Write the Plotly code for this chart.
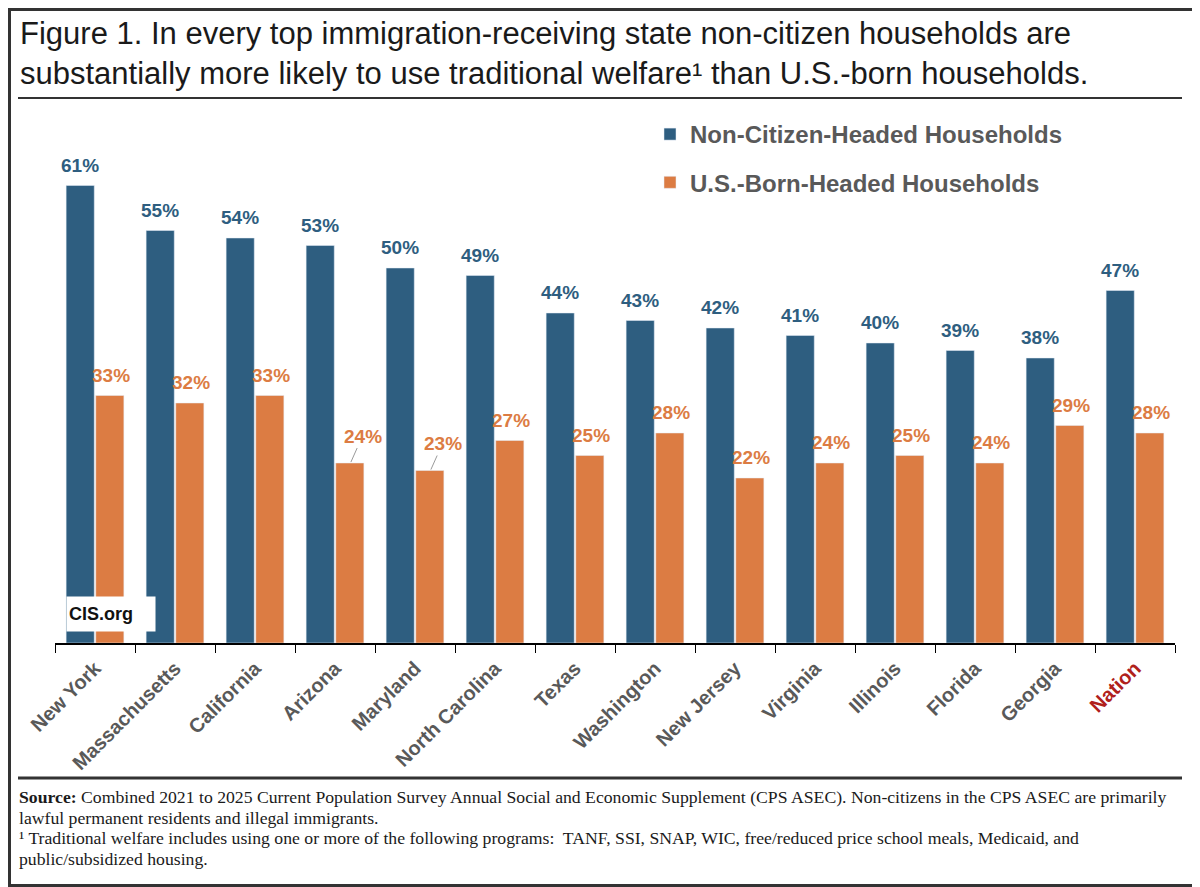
import plotly.graph_objects as go

# Data
states = ["New York", "Massachusetts", "California", "Arizona", "Maryland", "North Carolina",
          "Texas", "Washington", "New Jersey", "Virginia", "Illinois", "Florida", "Georgia", "Nation"]
non_citizen = [61, 55, 54, 53, 50, 49, 44, 43, 42, 41, 40, 39, 38, 47]
us_born = [33, 32, 33, 24, 23, 27, 25, 28, 22, 24, 25, 24, 29, 28]
# labels that sit off the bar with a small leader line
leader_states = ["Arizona", "Maryland"]

footnote_lines = [
    "<b>Source:</b> Combined 2021 to 2025 Current Population Survey Annual Social and Economic "
    "Supplement (CPS ASEC). Non-citizens in the CPS ASEC are primarily",
    "lawful permanent residents and illegal immigrants.",
    "\u00b9 Traditional welfare includes using one or more of the following programs:  TANF, SSI, "
    "SNAP, WIC, free/reduced price school meals, Medicaid, and",
    "public/subsidized housing.",
]

blue = "#2E5E80"
orange = "#DC7C43"
gray = "#595959"
label_font = "Liberation Sans, Arial, sans-serif"

# the page puts the figure 8px in from the top-left, so size it to fit the window
OFF = 8
W, H = 1192, 879
L, R, T, B = 47, 25, 107, 244
pw = W - L - R
ph = H - T - B

# convert page pixels to paper coords
def px_x(p):
    return (p - OFF - L) / pw

def px_y(p):
    return (H - B - (p - OFF)) / ph

fig = go.Figure()
fig.add_trace(go.Bar(x=states, y=non_citizen, name="<b>Non-Citizen-Headed Households</b>",
                     marker_color=blue, legendgroup="a"))
fig.add_trace(go.Bar(x=states, y=us_born, name="<b>U.S.-Born-Headed Households</b>",
                     marker_color=orange, legendgroup="b"))

# value labels
annots = []
for s, v in zip(states, non_citizen):
    annots.append(dict(x=s, y=v, text=f"<b>{v}%</b>", showarrow=False, xshift=-15.5,
                       yanchor="bottom", yshift=8, font=dict(size=19, color=blue, family=label_font)))
for s, v in zip(states, us_born):
    if s in leader_states:
        annots.append(dict(x=s, y=v, text=f"<b>{v}%</b>", showarrow=True, arrowhead=0,
                           arrowwidth=1, arrowcolor="#9a9a9a", ax=12, ay=-27, standoff=1,
                           xshift=15.5, font=dict(size=19, color=orange, family=label_font)))
    else:
        annots.append(dict(x=s, y=v, text=f"<b>{v}%</b>", showarrow=False, xshift=15.5,
                           yanchor="bottom", yshift=8, font=dict(size=19, color=orange, family=label_font)))

# title
annots.append(dict(xref="paper", yref="paper", x=px_x(18), y=px_y(14), xanchor="left", yanchor="top",
                   align="left", showarrow=False,
                   text="Figure 1. In every top immigration-receiving state non-citizen households are<br>"
                        "substantially more likely to use traditional welfare\u00b9 than U.S.-born households.",
                   font=dict(size=31, color="#1a1a1a", family="Liberation Sans, Arial, sans-serif")))

# watermark
annots.append(dict(xref="paper", yref="paper", x=px_x(66), y=px_y(614), xanchor="left", yanchor="middle",
                   showarrow=False, text="<b>CIS.org</b>", bgcolor="white", width=84, height=30,
                   align="left", borderpad=2,
                   font=dict(size=18, color="#111", family=label_font)))

# footnotes, one line each so the spacing can match
for i, line in enumerate(footnote_lines):
    annots.append(dict(xref="paper", yref="paper", x=px_x(17), y=px_y(797 + i * 20.5),
                       xanchor="left", yanchor="middle", align="left", showarrow=False, text=line,
                       font=dict(size=17.7, color="#1a1a1a",
                                 family="Liberation Serif, Times New Roman, serif")))

shapes = [
    # outer frame
    dict(type="rect", xref="paper", yref="paper", x0=px_x(OFF + 1.5), x1=px_x(OFF + W - 1.5),
         y0=px_y(OFF + H - 1.5), y1=px_y(OFF + 1.5), line=dict(color="#333", width=3)),
    # rule under title
    dict(type="line", xref="paper", yref="paper", x0=px_x(18), x1=px_x(1182), y0=px_y(98), y1=px_y(98),
         line=dict(color="#333", width=2)),
    # rule above footnotes
    dict(type="line", xref="paper", yref="paper", x0=px_x(18), x1=px_x(1182), y0=px_y(778), y1=px_y(778),
         line=dict(color="#333", width=3)),
]

ticktext = [f"<b>{s}</b>" if s != "Nation" else "<b><span style='color:#B0211B'>Nation</span></b>"
            for s in states]

fig.update_layout(
    width=W, height=H,
    margin=dict(l=L, r=R, t=T, b=B),
    paper_bgcolor="white", plot_bgcolor="white",
    barmode="group", bargap=0.26, bargroupgap=0.05,
    annotations=annots, shapes=shapes,
    legend=dict(x=px_x(650), y=px_y(112), xanchor="left", yanchor="top", traceorder="grouped",
                tracegroupgap=14, bgcolor="rgba(0,0,0,0)",
                font=dict(size=24, color=gray, family=label_font)),
    xaxis=dict(tickmode="array", tickvals=states, ticktext=ticktext, tickangle=-45,
               tickfont=dict(size=20, color=gray, family=label_font),
               showline=True, linecolor="black", linewidth=1.5,
               ticks="outside", tickson="boundaries", ticklen=8, tickcolor="black",
               ticklabelstandoff=4, showgrid=False, fixedrange=True),
    yaxis=dict(range=[0, 70.4], visible=False, showgrid=False, fixedrange=True),
)

fig.write_html("out.html")
